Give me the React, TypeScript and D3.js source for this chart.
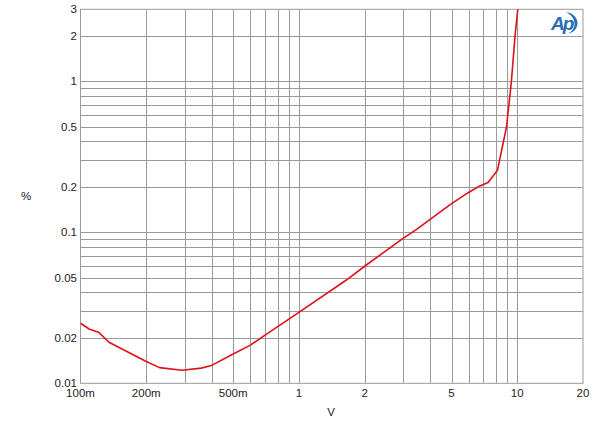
import React from 'react';
import * as d3 from 'd3';

// measured curve: level (V) vs THD+N (%)
const volts = [0.1, 0.11, 0.121, 0.135, 0.151, 0.197, 0.23, 0.292, 0.357, 0.397, 0.49, 0.6, 0.684, 1.0, 1.65, 2.0, 3.0, 3.46, 4.91, 5.96, 6.74, 7.35, 8.12, 8.93, 9.4, 9.77, 10.1];
const percent = [0.025, 0.0228, 0.0218, 0.0187, 0.0172, 0.0141, 0.0127, 0.0122, 0.0126, 0.0131, 0.0154, 0.0179, 0.0204, 0.0295, 0.0483, 0.0596, 0.0912, 0.1047, 0.152, 0.183, 0.203, 0.214, 0.258, 0.5, 1.0, 2.0, 3.2];

const xTickValues = [0.1, 0.2, 0.5, 1, 2, 5, 10, 20];
const xTickLabels = ['100m', '200m', '500m', '1', '2', '5', '10', '20'];
const yTickValues = [0.01, 0.02, 0.05, 0.1, 0.2, 0.5, 1, 2, 3];
const yTickLabels = ['0.01', '0.02', '0.05', '0.1', '0.2', '0.5', '1', '2', '3'];

const width = 600;
const height = 429;
const margin = { left: 80.5, right: 17, top: 9.3, bottom: 45.7 };

const App: React.FC = () => {
    const x = d3.scaleLog().domain([0.1, 20]).range([margin.left, width - margin.right]);
    const y = d3.scaleLog().domain([0.01, 3]).range([height - margin.bottom, margin.top]);

    // grid at every 1..9 multiple inside the domain
    const xGrid = x.ticks().filter(v => v > 0.1 && v < 20);
    const yGrid = y.ticks().filter(v => v > 0.01 && v < 3);

    const line = d3.line<number>()
        .x((d, i) => x(volts[i]))
        .y(d => y(d));

    const font = '"Liberation Sans", Arial, sans-serif';
    const gridColor = '#9a9a9a';
    const [x0, x1] = x.range();
    const [y0, y1] = y.range();

    return (
        <svg width={width} height={height} style={{ position: 'absolute', left: 0, top: 0, background: 'white' }}>
            <defs>
                <clipPath id="plot">
                    <rect x={x0} y={y1} width={x1 - x0} height={y0 - y1} />
                </clipPath>
            </defs>
            {xGrid.map((v, i) => (
                <line key={'xg' + i} x1={Math.round(x(v)) + 0.5} x2={Math.round(x(v)) + 0.5} y1={y1} y2={y0} stroke={gridColor} strokeWidth={1} />
            ))}
            {yGrid.map((v, i) => (
                <line key={'yg' + i} x1={x0} x2={x1} y1={Math.round(y(v)) + 0.5} y2={Math.round(y(v)) + 0.5} stroke={gridColor} strokeWidth={1} />
            ))}
            <rect x={x0} y={y1} width={x1 - x0} height={y0 - y1} fill="none" stroke={gridColor} strokeWidth={1} />

            <path d={line(percent) || ''} fill="none" stroke="#e0101a" strokeWidth={1.6} clipPath="url(#plot)" strokeLinejoin="round" />

            {yTickValues.map((v, i) => (
                <text key={'yt' + i} x={77} y={y(v)} dy="0.35em" textAnchor="end" fontFamily={font} fontSize={11.5} fill="#222">{yTickLabels[i]}</text>
            ))}
            {xTickValues.map((v, i) => (
                <text key={'xt' + i} x={x(v)} y={397} textAnchor="middle" fontFamily={font} fontSize={11.5} fill="#222">{xTickLabels[i]}</text>
            ))}
            <text x={26} y={196} dy="0.35em" textAnchor="middle" fontFamily={font} fontSize={11.5} fill="#222">%</text>
            <text x={331} y={416} textAnchor="middle" fontFamily={font} fontSize={11.5} fill="#222">V</text>

            {/* AP logo */}
            <g fill="#2a6db2" stroke="none">
                <text x={551} y={30} fontFamily={font} fontSize={19} fontStyle="italic" fontWeight="bold" letterSpacing={-2}>Ap</text>
                <path d="M566,12 C580,14 582,30 568,34 C578,28 576,17 566,12 Z" />
            </g>
        </svg>
    );
};

export default App;
